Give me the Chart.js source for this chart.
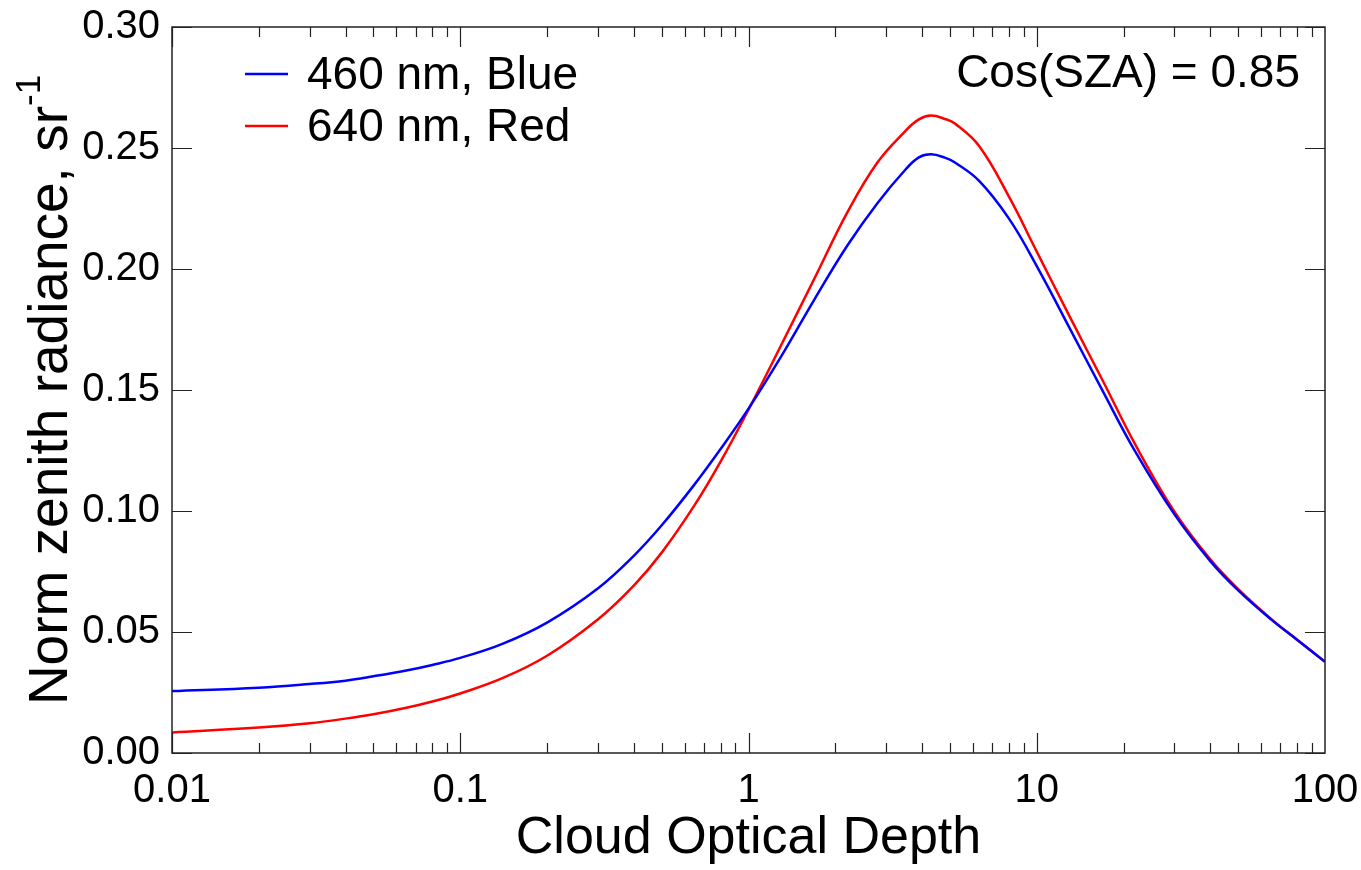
<!DOCTYPE html>
<html>
<head>
<meta charset="utf-8">
<script src="https://cdn.jsdelivr.net/npm/chart.js@4.4.1/dist/chart.umd.min.js"></script>
<style>
  html, body { margin: 0; padding: 0; background: #fff; }
  #wrap { width: 1361px; height: 870px; }
</style>
</head>
<body>
<div id="wrap"><canvas id="radiance_chart"></canvas></div>
<script>
// cloud optical depth (x) and normalised zenith radiance
var depth   = [0.01, 0.02, 0.03, 0.04, 0.05, 0.065, 0.08, 0.1, 0.14, 0.2, 0.3, 0.4, 0.5, 0.65, 0.8, 1,
               1.3, 1.7, 2.2, 2.8, 3.5, 3.9, 4.3, 4.8, 5.2, 6.3, 8, 10, 13, 17, 22, 30, 40, 50, 65, 80, 100];
var blueRad = [0.0256, 0.0270, 0.0285, 0.0299, 0.0317, 0.0341, 0.0364, 0.0393, 0.0451, 0.0539, 0.0680, 0.0815, 0.0941, 0.1110, 0.1256, 0.1423,
               0.1640, 0.1878, 0.2096, 0.2272, 0.2410, 0.2461, 0.2474, 0.2460, 0.2440, 0.2365, 0.2209, 0.2012, 0.1756, 0.1492, 0.1244, 0.0987, 0.0793, 0.0672, 0.0552, 0.0468, 0.0377];
var redRad  = [0.0085, 0.0105, 0.0123, 0.0142, 0.0160, 0.0187, 0.0213, 0.0246, 0.0309, 0.0402, 0.0552, 0.0692, 0.0828, 0.1024, 0.1204, 0.1419,
               0.1687, 0.1965, 0.2233, 0.2440, 0.2570, 0.2618, 0.2634, 0.2620, 0.2601, 0.2509, 0.2300, 0.2072, 0.1804, 0.1535, 0.1273, 0.0998, 0.0800, 0.0677, 0.0554, 0.0468, 0.0377];
var seriesNames = ['460 nm, Blue', '640 nm, Red'];
var seriesColours = ['#0000ff', '#ff0000'];
var xTickValues = [0.01, 0.1, 1, 10, 100];
var yTickValues = [0, 0.05, 0.10, 0.15, 0.20, 0.25, 0.30];
var noteText = 'Cos(SZA) = 0.85';

var fontFamily = '"Liberation Sans", Arial, Helvetica, sans-serif';

function toPoints(ys) {
  return depth.map(function (d, i) { return { x: d, y: ys[i] }; });
}

// ticks drawn inside the frame, on all four sides, plus legend, note and y title
var framePlugin = {
  id: 'frame',
  afterDraw: function (chart) {
    var ctx = chart.ctx;
    var a = chart.chartArea;
    var xs = chart.scales.x;
    var ys = chart.scales.y;
    ctx.save();

    // frame
    ctx.strokeStyle = '#222';
    ctx.lineWidth = 1.5;
    ctx.strokeRect(a.left, a.top, a.right - a.left, a.bottom - a.top);

    // x ticks, majors at decades, minors 2..9
    ctx.lineWidth = 1.2;
    ctx.beginPath();
    for (var e = -2; e < 2; e++) {
      for (var m = 1; m <= 9; m++) {
        var v = m * Math.pow(10, e);
        var px = Math.round(xs.getPixelForValue(v)) + 0.5;
        var len = (m === 1) ? 20 : 10;
        ctx.moveTo(px, a.bottom); ctx.lineTo(px, a.bottom - len);
        ctx.moveTo(px, a.top); ctx.lineTo(px, a.top + len);
      }
    }
    // y ticks
    yTickValues.forEach(function (v) {
      var py = Math.round(ys.getPixelForValue(v)) + 0.5;
      ctx.moveTo(a.left, py); ctx.lineTo(a.left + 20, py);
      ctx.moveTo(a.right, py); ctx.lineTo(a.right - 20, py);
    });
    ctx.stroke();

    // legend
    ctx.font = '46px ' + fontFamily;
    ctx.textBaseline = 'middle';
    ctx.textAlign = 'left';
    chart.data.datasets.forEach(function (ds, i) {
      var ly = 74 + i * 52;
      ctx.strokeStyle = ds.borderColor;
      ctx.lineWidth = 2.5;
      ctx.beginPath();
      ctx.moveTo(245, ly); ctx.lineTo(288, ly);
      ctx.stroke();
      ctx.fillStyle = '#000';
      ctx.fillText(ds.label, 307, ly + 2);
    });

    // note
    ctx.textAlign = 'right';
    ctx.fillText(noteText, 1300, 74);

    // y axis title with superscript
    ctx.translate(52, (a.top + a.bottom) / 2);
    ctx.rotate(-Math.PI / 2);
    var main = 'Norm zenith radiance, sr';
    var sup = '-1';
    ctx.font = '55px ' + fontFamily;
    var w1 = ctx.measureText(main).width;
    ctx.font = '35px ' + fontFamily;
    var w2 = ctx.measureText(sup).width;
    var start = -(w1 + w2) / 2;
    ctx.textAlign = 'left';
    ctx.font = '55px ' + fontFamily;
    ctx.fillText(main, start, 0);
    ctx.font = '35px ' + fontFamily;
    ctx.fillText(sup, start + w1, -22);

    ctx.restore();
  }
};

var radianceChart = new Chart(document.getElementById('radiance_chart').getContext('2d'), {
  type: 'line',
  data: {
    datasets: [{
      label: seriesNames[0],
      data: toPoints(blueRad),
      borderColor: seriesColours[0],
      borderWidth: 2.5,
      pointRadius: 0,
      tension: 0.4,
      fill: false
    }, {
      label: seriesNames[1],
      data: toPoints(redRad),
      borderColor: seriesColours[1],
      borderWidth: 2.5,
      pointRadius: 0,
      tension: 0.4,
      fill: false
    }]
  },
  options: {
    responsive: true,
    maintainAspectRatio: false,
    animation: false,
    layout: { padding: { left: 0, right: 36, top: 27, bottom: 0 } },
    plugins: {
      legend: { display: false },
      tooltip: { enabled: false }
    },
    scales: {
      x: {
        type: 'logarithmic',
        min: 0.01,
        max: 100,
        afterBuildTicks: function (s) { s.ticks = xTickValues.map(function (v) { return { value: v }; }); },
        afterFit: function (s) { s.height = 117; s.paddingLeft = 0; s.paddingRight = 0; },
        grid: { display: false, drawTicks: false },
        border: { display: false },
        ticks: {
          autoSkip: false,
          maxRotation: 0,
          padding: 14,
          color: '#000',
          font: { family: fontFamily, size: 40 },
          callback: function (v) { return String(v); }
        },
        title: {
          display: true,
          text: 'Cloud Optical Depth',
          color: '#000',
          font: { family: fontFamily, size: 52 },
          padding: { top: 10, bottom: 0 }
        }
      },
      y: {
        min: 0,
        max: 0.3,
        afterBuildTicks: function (s) { s.ticks = yTickValues.map(function (v) { return { value: v }; }); },
        afterFit: function (s) { s.width = 172; s.paddingTop = 0; s.paddingBottom = 0; },
        grid: { display: false, drawTicks: false },
        border: { display: false },
        ticks: {
          padding: 12,
          color: '#000',
          font: { family: fontFamily, size: 40 },
          callback: function (v) { return v.toFixed(2); }
        }
      }
    }
  },
  plugins: [framePlugin]
});
</script>
</body>
</html>
